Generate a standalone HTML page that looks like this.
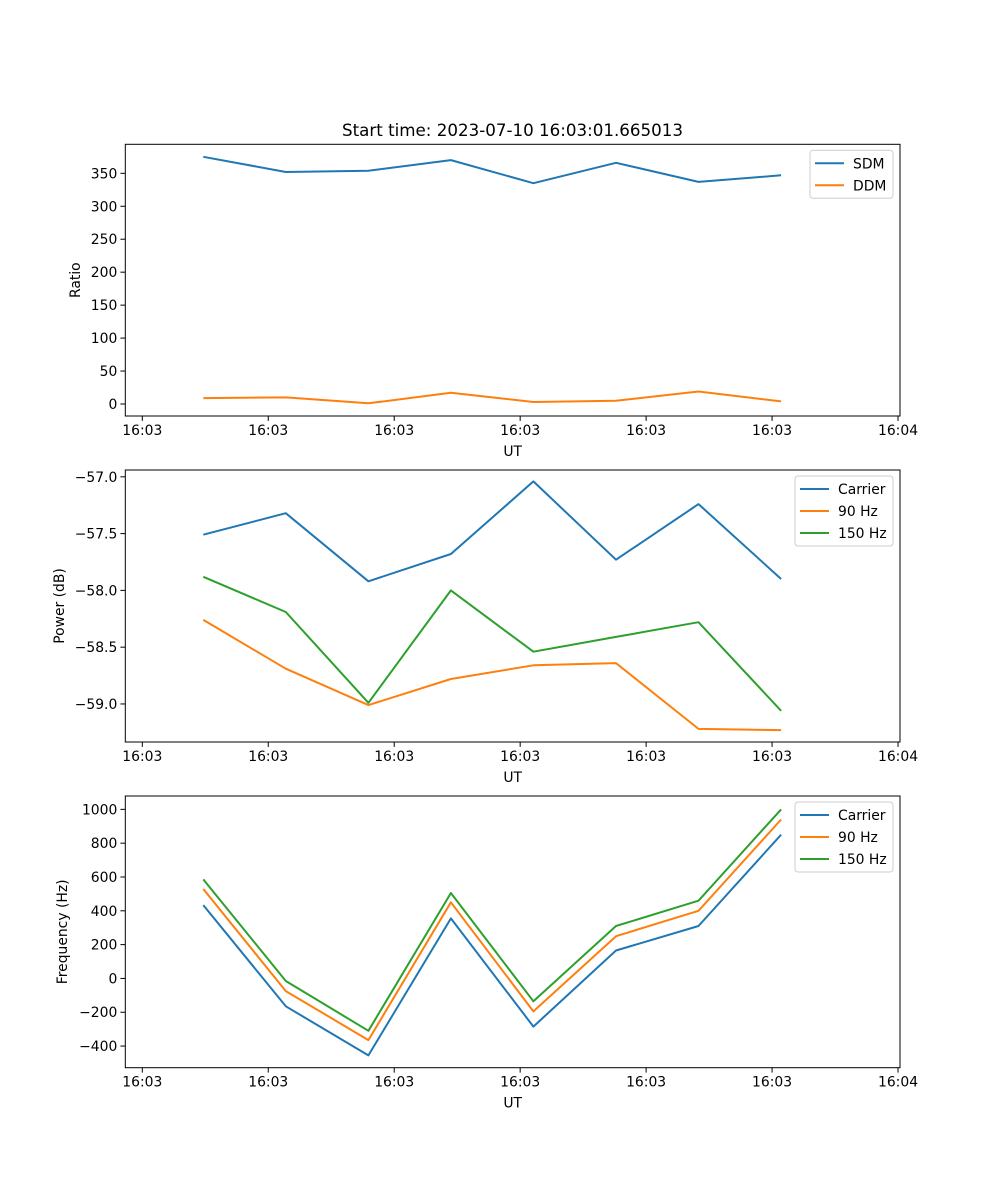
<!DOCTYPE html>
<html><head><meta charset="utf-8"><style>
body{margin:0;background:#fff}
svg{display:block;font-family:"DejaVu Sans","Liberation Sans",sans-serif}
</style></head><body>
<svg id="fig" width="1000" height="1200" xmlns="http://www.w3.org/2000/svg"></svg>
<script>
const sampleIdx = [0,1,2,3,4,5,6,7];
const tickPos = [-0.739,0.787,2.313,3.839,5.365,6.891,8.417];
const tickLabels = ["16:03","16:03","16:03","16:03","16:03","16:03","16:04"];
const sdm = [375,352,354,370,335,366,337,347];
const ddm = [9,10,1,17,3,5,19,4];
const pCarrier = [-57.51,-57.32,-57.92,-57.68,-57.04,-57.73,-57.24,-57.90];
const p90 = [-58.26,-58.69,-59.01,-58.78,-58.66,-58.64,-59.22,-59.23];
const p150 = [-57.88,-58.19,-58.99,-58.00,-58.54,-58.41,-58.28,-59.06];
const fCarrier = [434,-165,-455,355,-285,165,310,850];
const f90 = [529,-75,-365,450,-195,250,400,940];
const f150 = [586,-15,-310,505,-135,310,460,1000];
const yTicks1 = [0,50,100,150,200,250,300,350];
const yTicks2 = [-59.0,-58.5,-58.0,-57.5,-57.0];
const yTicks3 = [-400,-200,0,200,400,600,800,1000];

const NS="http://www.w3.org/2000/svg";
const svg=document.getElementById('fig');
function el(tag,attrs,parent){const e=document.createElementNS(NS,tag);for(const k in attrs)e.setAttribute(k,attrs[k]);(parent||svg).appendChild(e);return e;}
const X0=125.3,X1=900,xmin=-0.945,xmax=8.441;
const xs=v=>X0+(v-xmin)/(xmax-xmin)*(X1-X0);
const C={b:'#1f77b4',o:'#ff7f0e',g:'#2ca02c'};
const FS=13.9;

function panel(name,top,bot,ymin,ymax,yticks,fmt,ylabel,series,legend){
  const g=el('g',{});
  
  
  const ys=v=>bot-(v-ymin)/(ymax-ymin)*(bot-top);
  series.forEach(s=>{
    const p=el('polyline',{points:s.data.map((v,i)=>xs(sampleIdx[i]).toFixed(1)+','+ys(v).toFixed(1)).join(' '),fill:'none',stroke:s.color,'stroke-width':2,'stroke-linejoin':'round'},g);
    
    
  });
  const fr=el('rect',{x:X0,y:top,width:X1-X0,height:bot-top,fill:'none',stroke:'#000','stroke-width':1},g);
  
  
  tickPos.forEach((t,i)=>{
    const x=xs(t);
    el('line',{x1:x,x2:x,y1:bot,y2:bot+4.9,stroke:'#000'},g);
    const tx=el('text',{x:x,y:bot+19,'font-size':FS,'text-anchor':'middle'},g);tx.textContent=tickLabels[i];
    
    
  });
  yticks.forEach(v=>{
    const y=ys(v);
    el('line',{x1:X0-4.9,x2:X0,y1:y,y2:y,stroke:'#000'},g);
    const tx=el('text',{x:X0-8,y:y+5,'font-size':FS,'text-anchor':'end'},g);tx.textContent=fmt(v);
    
    
  });
  const xl=el('text',{x:(X0+X1)/2,y:bot+40,'font-size':FS,'text-anchor':'middle'},g);xl.textContent='UT';
  
  
  const yl=el('text',{x:0,y:0,'font-size':FS,'text-anchor':'middle',transform:`translate(${legend.ylx},${(top+bot)/2}) rotate(-90)`},g);yl.textContent=ylabel;
  
  
  const lg=el('g',{},g);
  
  
  el('rect',{x:legend.x,y:top+6,width:legend.w,height:series.length*22+4,rx:3,fill:'#fff','fill-opacity':0.8,stroke:'#ccc'},lg);
  series.forEach((s,i)=>{
    const cy=top+6+13+i*22;
    el('line',{x1:legend.x+5,x2:legend.x+34,y1:cy,y2:cy,stroke:s.color,'stroke-width':2},lg);
    const t=el('text',{x:legend.x+43,y:cy+5,'font-size':FS},lg);t.textContent=s.label;
    
    
  });
}
const minus=s=>s.replace('-','\u2212');
const title=el('text',{x:512.5,y:136,'font-size':16.7,'text-anchor':'middle'});title.textContent='Start time: 2023-07-10 16:03:01.665013';


panel('ratio-panel',144.3,416,-18.2,394,yTicks1,v=>minus(String(v)),'Ratio',
 [{key:'sdm',label:'SDM',data:sdm,color:C.b},{key:'ddm',label:'DDM',data:ddm,color:C.o}],{x:810,w:83,ylx:80});
panel('power-panel',470,742,-59.335,-56.94,yTicks2,v=>minus(v.toFixed(1)),'Power (dB)',
 [{key:'carrier',label:'Carrier',data:pCarrier,color:C.b},{key:'90hz',label:'90 Hz',data:p90,color:C.o},{key:'150hz',label:'150 Hz',data:p150,color:C.g}],{x:795,w:98,ylx:64});
panel('frequency-panel',796,1067.7,-528,1079,yTicks3,v=>minus(String(v)),'Frequency (Hz)',
 [{key:'carrier',label:'Carrier',data:fCarrier,color:C.b},{key:'90hz',label:'90 Hz',data:f90,color:C.o},{key:'150hz',label:'150 Hz',data:f150,color:C.g}],{x:795,w:98,ylx:67});
</script>
</body></html>
